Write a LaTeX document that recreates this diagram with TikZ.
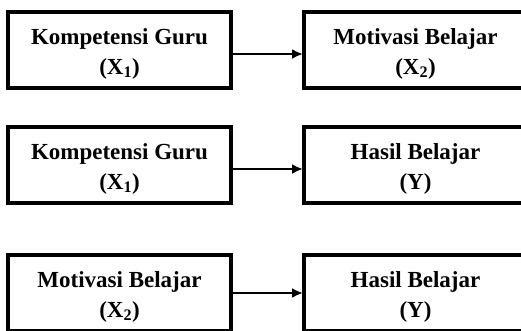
\documentclass[tikz,border=0pt]{standalone}
\usepackage{fontspec}
\setmainfont{Liberation Serif}
\usetikzlibrary{matrix,arrows.meta}
\newcommand{\varlabel}[2]{\begin{tabular}{@{}c@{}}\rule{0pt}{27pt}#1\\(#2)\end{tabular}}

\begin{document}
\begin{tikzpicture}[x=1pt,y=1pt]
	\useasboundingbox (0,0) rectangle (521,-331);
	\clip (0,0) rectangle (521,-331);
	\matrix (b) [matrix of nodes, anchor=north west, inner sep=0pt, outer sep=0pt,
		row sep=35pt, column sep=69pt,
		nodes={draw, line width=4pt, minimum width=223pt, minimum height=76pt, inner sep=0pt,
			font=\bfseries\fontsize{23}{30}\selectfont}] at (6,-10)
	{
		\varlabel{Kompetensi Guru}{X\textsubscript{1}} & \varlabel{Motivasi Belajar}{X\textsubscript{2}} \\
		\varlabel{Kompetensi Guru}{X\textsubscript{1}} & \varlabel{Hasil Belajar}{Y} \\[13pt]
		\varlabel{Motivasi Belajar}{X\textsubscript{2}} & \varlabel{Hasil Belajar}{Y} \\
	};
	\path[-{Latex[length=11pt,width=10pt]}, line width=2.5pt, shorten >=1pt]
	([yshift=-4pt]b-1-1.east) edge ([yshift=-4pt]b-1-2.west)
	([yshift=-4pt]b-2-1.east) edge ([yshift=-4pt]b-2-2.west)
	(b-3-1) edge (b-3-2);
\end{tikzpicture}
\end{document}
